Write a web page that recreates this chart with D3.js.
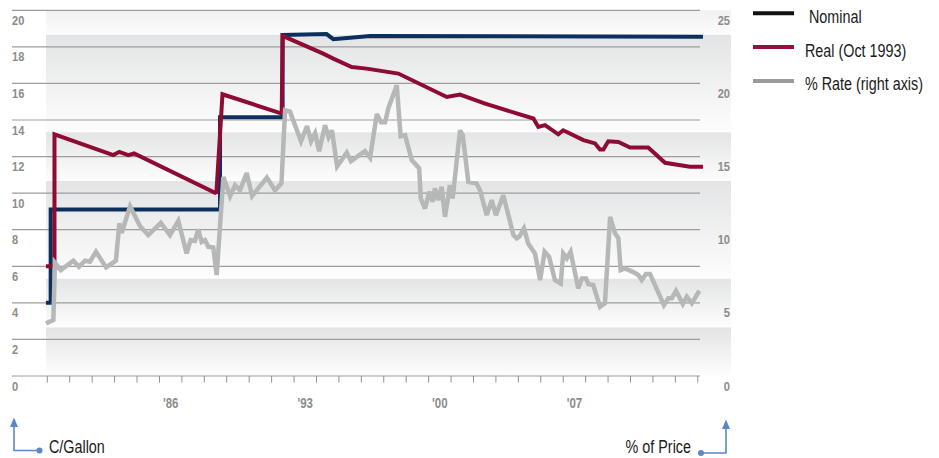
<!DOCTYPE html>
<html>
<head>
<meta charset="utf-8">
<script src="https://cdn.jsdelivr.net/npm/d3@7"></script>
<style>
  body { margin: 0; background: #fff; }
  svg text { font-family: "Liberation Sans", Arial, sans-serif; }
</style>
</head>
<body>
<div id="chart"></div>
<script>

// federal gas tax, cents per gallon (left axis) and % of price (right axis)
const nominal = [
  [1982.94, 4.0], [1983.15, 4.0], [1983.15, 9.1], [1990.70, 9.1], [1990.70, 14.15],
  [1993.49, 14.15], [1993.49, 18.65], [1995.45, 18.7], [1995.75, 18.42], [1997.39, 18.6],
  [2012.23, 18.56]
];

const real = [
  [1982.94, 6.0], [1983.32, 6.0], [1983.32, 13.22], [1985.94, 12.08], [1986.21, 12.26],
  [1986.61, 12.08], [1986.87, 12.17], [1990.48, 10.02], [1990.54, 10.05], [1990.81, 15.41],
  [1993.45, 14.35], [1993.49, 18.6], [1995.30, 17.63], [1995.75, 17.36], [1996.57, 16.9],
  [1997.24, 16.81], [1998.65, 16.54], [2000.81, 15.26], [2001.40, 15.39], [2002.52, 14.9],
  [2002.74, 14.81], [2004.67, 14.08], [2004.89, 13.62], [2005.19, 13.72], [2005.78, 13.22],
  [2006.00, 13.44], [2006.90, 12.9], [2007.42, 12.72], [2007.64, 12.39], [2007.79, 12.39],
  [2008.01, 12.84], [2008.46, 12.8], [2008.98, 12.5], [2009.79, 12.5], [2010.54, 11.66],
  [2011.65, 11.44], [2012.23, 11.44]
];

const rate = [
  [1982.94, 3.60], [1983.27, 3.83], [1983.34, 7.74], [1983.60, 7.24], [1984.16, 7.88],
  [1984.41, 7.47], [1984.68, 7.88], [1984.90, 7.81], [1985.17, 8.49], [1985.62, 7.42],
  [1986.06, 7.88], [1986.21, 10.43], [1986.32, 9.79], [1986.69, 11.61], [1987.13, 10.25],
  [1987.50, 9.63], [1988.06, 10.47], [1988.47, 9.63], [1988.84, 10.61], [1989.21, 8.38],
  [1989.39, 9.29], [1989.58, 9.24], [1989.73, 10.02], [1989.88, 9.17], [1990.03, 9.29],
  [1990.18, 8.83], [1990.40, 8.79], [1990.55, 6.90], [1990.85, 13.61], [1991.15, 12.30],
  [1991.37, 13.05], [1991.59, 12.70], [1991.89, 13.87], [1992.13, 12.30], [1992.79, 13.56],
  [1993.15, 12.70], [1993.44, 13.18], [1993.60, 18.17], [1993.82, 18.07], [1994.31, 16.05],
  [1994.58, 17.08], [1994.76, 16.05], [1994.94, 16.60], [1995.12, 15.37], [1995.38, 17.14],
  [1995.54, 16.33], [1995.69, 16.80], [1995.92, 14.34], [1996.35, 15.27], [1996.54, 14.69],
  [1997.16, 15.37], [1997.39, 14.92], [1997.69, 17.90], [1997.88, 17.35], [1998.06, 17.35],
  [1998.20, 18.29], [1998.58, 19.88], [1998.75, 16.39], [1998.95, 16.46], [1999.25, 14.75],
  [1999.39, 14.53], [1999.58, 14.19], [1999.65, 12.14], [1999.84, 11.45], [2000.03, 12.59],
  [2000.18, 11.91], [2000.28, 12.82], [2000.43, 12.02], [2000.58, 12.93], [2000.73, 10.88],
  [2000.95, 13.05], [2001.07, 12.14], [2001.40, 16.80], [2001.52, 16.46], [2001.77, 13.27],
  [2002.14, 13.16], [2002.29, 12.70], [2002.59, 11.00], [2002.81, 12.02], [2003.00, 11.00],
  [2003.33, 12.36], [2003.78, 9.63], [2003.93, 9.41], [2004.04, 9.52], [2004.25, 10.09],
  [2004.44, 9.06], [2004.74, 8.38], [2004.97, 6.56], [2005.17, 8.49], [2005.37, 8.15],
  [2005.63, 6.56], [2005.89, 6.33], [2006.00, 8.38], [2006.16, 8.04], [2006.33, 8.49],
  [2006.67, 5.99], [2006.83, 6.67], [2007.02, 6.67], [2007.12, 6.28], [2007.34, 6.22],
  [2007.64, 4.73], [2007.86, 4.97], [2008.09, 10.88], [2008.31, 9.75], [2008.46, 9.41],
  [2008.56, 7.24], [2008.76, 7.36], [2009.10, 7.12], [2009.35, 6.90], [2009.50, 6.56],
  [2009.69, 6.97], [2009.87, 6.97], [2010.49, 4.85], [2010.69, 5.31], [2010.84, 5.31],
  [2011.03, 5.83], [2011.33, 4.92], [2011.51, 5.42], [2011.73, 4.97], [2012.07, 5.83]
];

const leftTicks = [0, 2, 4, 6, 8, 10, 12, 14, 16, 18, 20];
const rightTicks = [0, 5, 10, 15, 20, 25];
const yearTicks = d3.range(1983, 2013);
const yearLabels = ["'86", "'93", "'00", "'07"];
const yearLabelAt = [1988.5, 1994.5, 2000.5, 2006.5];
// shaded bands, in right-axis units
const bandEdges = [0, 3.333, 6.667, 13.333, 16.667, 23.333, 26.667];

const legendNames = [" Nominal", "Real (Oct 1993)", "% Rate (right axis)"];
const legendColors = ["#111111", "#9a0d35", "#9b9b9b"];

const width = 939, height = 458;
const narrow = 0.82;   // condensed look

const svg = d3.select("#chart")
  .append("svg")
  .attr("width", width)
  .attr("height", height);

const x = d3.scaleLinear().domain([1983, 2012]).range([47.3, 697.8]);
const yL = d3.scaleLinear().domain([0, 20]).range([376, 10.3]);
const yR = d3.scaleLinear().domain([0, 25]).range([376, 10.3]);

function place(tx, ty) {
  return "translate(" + tx + "," + ty + ") scale(" + narrow + ",1)";
}

//BACKGROUND BANDS
const defs = svg.append("defs");
const bands = d3.pairs(bandEdges);
bands.forEach(function(b, i) {
  const g = defs.append("linearGradient")
    .attr("id", "band" + i)
    .attr("gradientUnits", "userSpaceOnUse")
    .attr("x1", 0).attr("x2", 0)
    .attr("y1", yR(b[1])).attr("y2", yR(b[0]));
  g.append("stop").attr("offset", 0).attr("stop-color", "#e3e4e5");
  g.append("stop").attr("offset", 1).attr("stop-color", "#fdfdfd");
});

svg.selectAll("rect.band")
  .data(bands)
  .enter()
  .append("rect")
  .attr("class", "band")
  .attr("x", 46)
  .attr("width", 731 - 46)
  .attr("y", d => yR(Math.min(d[1], 25)))
  .attr("height", d => yR(d[0]) - yR(Math.min(d[1], 25)))
  .attr("fill", (d, i) => "url(#band" + i + ")");

//GRID
svg.selectAll("line.grid")
  .data(leftTicks)
  .enter()
  .append("line")
  .attr("class", "grid")
  .attr("x1", 12)
  .attr("x2", 700)
  .attr("y1", d => yL(d))
  .attr("y2", d => yL(d))
  .attr("stroke", "#9d9d9d")
  .attr("stroke-width", 1.2);

svg.selectAll("line.tick")
  .data(yearTicks)
  .enter()
  .append("line")
  .attr("class", "tick")
  .attr("x1", d => x(d))
  .attr("x2", d => x(d))
  .attr("y1", yL(0))
  .attr("y2", yL(0) + 6.5)
  .attr("stroke", "#8f8f8f")
  .attr("stroke-width", 1);

svg.selectAll("text.ylab")
  .data(leftTicks)
  .enter()
  .append("text")
  .attr("class", "ylab")
  .attr("transform", d => place(12, yL(d) + 14.5))
  .attr("font-size", 13.5)
  .attr("font-weight", "bold")
  .attr("fill", "#8c8c8c")
  .text(d => d);

svg.selectAll("text.rlab")
  .data(rightTicks)
  .enter()
  .append("text")
  .attr("class", "rlab")
  .attr("transform", d => place(730, yR(d) + 14.5))
  .attr("text-anchor", "end")
  .attr("font-size", 13.5)
  .attr("font-weight", "bold")
  .attr("fill", "#8c8c8c")
  .text(d => d);

svg.selectAll("text.xlab")
  .data(yearLabels)
  .enter()
  .append("text")
  .attr("class", "xlab")
  .attr("transform", (d, i) => place(x(yearLabelAt[i]), 408))
  .attr("text-anchor", "middle")
  .attr("font-size", 14)
  .attr("font-weight", "bold")
  .attr("fill", "#8c8c8c")
  .text(d => d);

//LINES
const lineL = d3.line().x(d => x(d[0])).y(d => yL(d[1]));
const lineR = d3.line().x(d => x(d[0])).y(d => yR(d[1]));

svg.append("path")
  .datum(nominal)
  .attr("d", lineL)
  .attr("fill", "none")
  .attr("stroke", "#0d2f5d")
  .attr("stroke-width", 4)
  .attr("stroke-linejoin", "miter");

svg.append("path")
  .datum(real)
  .attr("d", lineL)
  .attr("fill", "none")
  .attr("stroke", "#8e0c34")
  .attr("stroke-width", 4)
  .attr("stroke-linejoin", "miter");

svg.append("path")
  .datum(rate)
  .attr("d", lineR)
  .attr("fill", "none")
  .attr("stroke", "#b6b7b7")
  .attr("stroke-width", 4.5)
  .attr("stroke-linejoin", "miter")
  .attr("stroke-miterlimit", 3);

//LEGEND
const legend = svg.selectAll("g.legend")
  .data(legendNames)
  .enter()
  .append("g")
  .attr("class", "legend")
  .attr("transform", (d, i) => "translate(0," + (i * 33.8) + ")");

legend.append("line")
  .attr("x1", 753).attr("x2", 794)
  .attr("y1", 13.3).attr("y2", 13.3)
  .attr("stroke", (d, i) => legendColors[i])
  .attr("stroke-width", 4);

legend.append("text")
  .attr("transform", place(805, 22.7))
  .attr("font-size", 17.5)
  .attr("fill", "#1a1a1a")
  .style("white-space", "pre")
  .text(d => d);

//AXIS TITLES
const blue = "#5b87c4";
const marks = svg.append("g").attr("fill", "none").attr("stroke", blue).attr("stroke-width", 1.6);
marks.append("path").attr("d", "M14,425 V450.5 H39");
marks.append("path").attr("d", "M726,427 V453 H701");
svg.append("path").attr("d", "M10,427 L14,417.5 L18,427 Z").attr("fill", blue);
svg.append("path").attr("d", "M722,429 L726,419.5 L730,429 Z").attr("fill", blue);
svg.append("circle").attr("cx", 39.5).attr("cy", 450.5).attr("r", 3).attr("fill", blue);
svg.append("circle").attr("cx", 701).attr("cy", 453).attr("r", 3).attr("fill", blue);

svg.append("text")
  .attr("transform", place(49, 453.3))
  .attr("font-size", 17.5).attr("fill", "#1a1a1a")
  .text("C/Gallon");

svg.append("text")
  .attr("transform", place(691, 453.3))
  .attr("text-anchor", "end")
  .attr("font-size", 17.5).attr("fill", "#1a1a1a")
  .text("% of Price");

</script>
</body>
</html>
